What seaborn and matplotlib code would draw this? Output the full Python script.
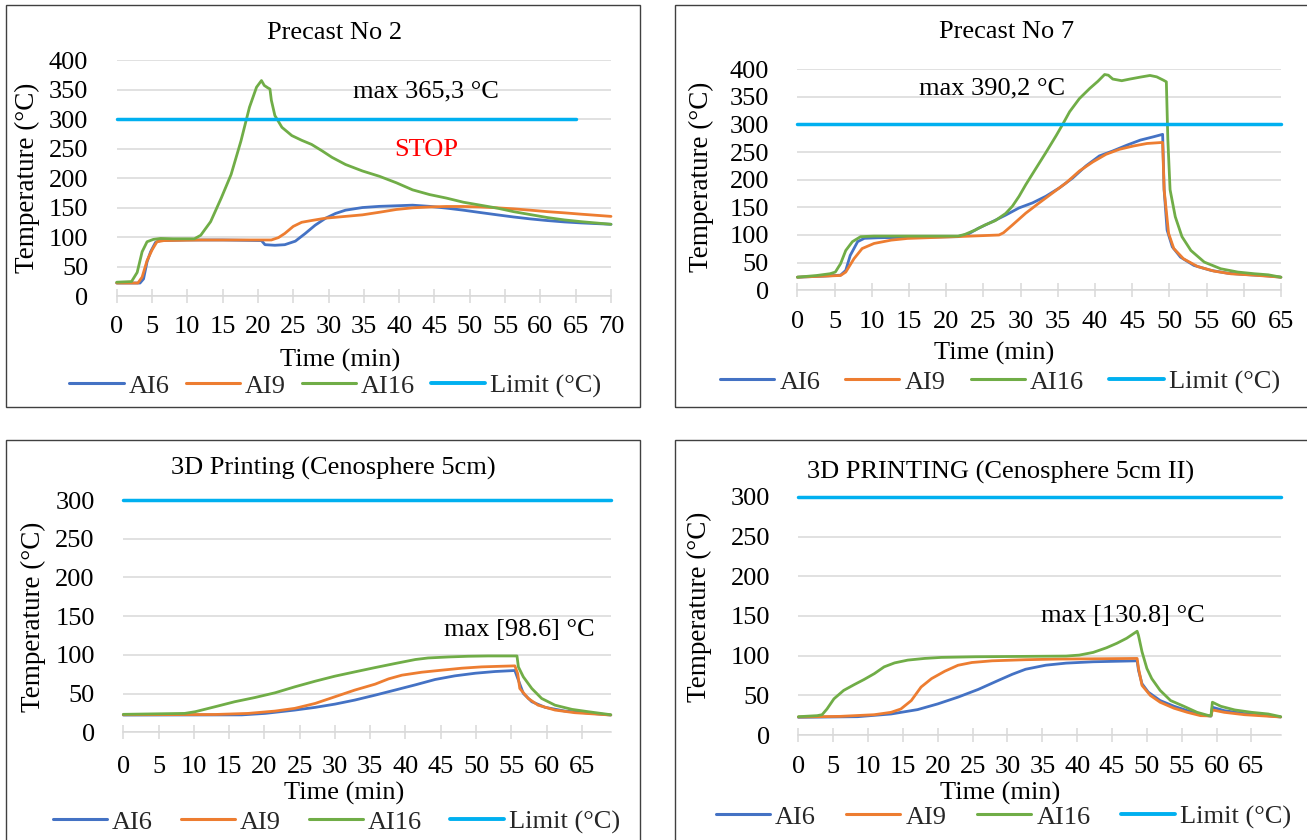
import matplotlib
matplotlib.use('Agg')
import matplotlib.pyplot as plt
import seaborn as sns
from matplotlib.patches import Rectangle
from matplotlib.lines import Line2D

# ---------------- data ----------------
series_names = ['AI6', 'AI9', 'AI16', 'Limit (°C)']
titles = ['Precast No 2', 'Precast No 7', '3D Printing (Cenosphere 5cm)', '3D PRINTING (Cenosphere 5cm II)']
x_label = 'Time (min)'
y_label = 'Temperature (°C)'

# Panel 1: Precast No 2
p1_ai6_t = [0, 3.3, 3.8, 4.3, 4.8, 5.5, 6.2, 10, 15, 20.5, 21, 22.4, 23.8, 25.3, 26.7, 28.1, 29.6, 31, 32.4, 34.8,
            37.2, 39.6, 41.9, 44.3, 46.7, 49.1, 51.5, 53.9, 56.2, 58.6, 61, 63.4, 65.8, 70]
p1_ai6_v = [22, 22, 29, 58, 75, 91, 94, 95, 95, 94, 87, 86, 87, 93, 106, 120, 132, 140, 145.5, 150,
            152, 153, 154, 152, 149, 145.5, 141.5, 137.6, 134, 130.7, 127.9, 125.6, 123.9, 121.6]
p1_ai9_t = [0, 3.0, 3.6, 4.3, 5.0, 5.7, 6.7, 12, 18, 21.9, 22.9, 23.8, 25, 26.2, 27.6, 29.6, 32.4, 34.8, 37.2, 39.6,
            41.9, 44.3, 46.7, 49.1, 51.5, 53.9, 56.2, 58.6, 61, 63.4, 65.8, 70]
p1_ai9_v = [22, 22, 32, 60, 78, 92, 94, 95, 95, 95, 99, 106, 118, 125, 128, 132, 135, 137.6, 142, 146.7,
            149.5, 151, 151.8, 151.8, 151, 149.5, 147.8, 145.5, 143, 141, 138.7, 135]
p1_ai16_t = [0, 2.1, 2.9, 3.6, 4.3, 5.2, 6.2, 8, 11, 11.9, 13.3, 14.8, 16.2, 17.6, 18.8, 19.8, 20.5, 20.9, 21.4, 21.7,
             21.9, 22.4, 23.4, 24.8, 26.2, 27.6, 29.1, 30.5, 32.4, 34.8, 37.2, 39.6, 41.9, 44.3, 46.7, 49.1, 51.5,
             53.9, 56.2, 58.6, 61, 63.4, 65.8, 70]
p1_ai16_v = [23.4, 24.5, 40, 75, 92, 96, 97.6, 97, 97, 103, 126, 166, 206, 263, 320, 354, 365.3, 357, 353, 351,
             332, 306, 286, 272, 264, 257, 246, 235, 223, 212, 203, 192, 180, 172, 166, 159, 154,
             149, 143, 138, 133, 129, 126, 121.6]
p1_limit_t = [0, 65]
p1_limit_v = [300, 300]

# Panel 2: Precast No 7
p2_ai6_t = [0, 3.5, 5.8, 6.5, 7.1, 8.1, 9.0, 10.8, 15, 21.6, 23, 24.3, 26.2, 28, 29.8, 31.6, 33.4, 35.2, 37, 38.8,
            40.6, 42.4, 44.3, 46.1, 47.9, 49.1, 49.3, 49.7, 50.4, 51.5, 53.3, 55.6, 57.8, 60.1, 63.3, 65]
p2_ai6_v = [23.7, 25.6, 27.4, 36, 63, 88, 94, 95, 96, 97, 102, 112, 124, 136, 149, 158, 170, 185, 203, 225,
            243, 252, 262.5, 271.6, 277.7, 282, 182, 109, 78.6, 60, 45, 36, 31, 28.6, 26, 23.7]
p2_ai9_t = [0, 5.8, 6.5, 7.6, 8.7, 10.3, 12.6, 14.8, 19.4, 27.1, 27.7, 28.9, 30.7, 32.5, 34.3, 36.1, 37.9, 39.7,
            41.5, 43.3, 45.2, 47, 49.1, 49.3, 49.9, 50.6, 51.9, 53.8, 56, 58.3, 61.4, 65]
p2_ai9_v = [23.7, 26.8, 33, 57, 75.5, 84.7, 90.7, 93.8, 96, 100, 104, 118, 139.5, 158, 176, 194, 215.6, 232,
            246, 255, 261, 265.5, 267.4, 182, 103, 75.5, 57, 43, 34.7, 29.8, 27.4, 23.7]
p2_ai16_t = [0, 2.6, 4.4, 5.1, 5.8, 6.5, 7.4, 8.5, 10.3, 21.6, 22.5, 23.9, 25.2, 26.6, 28, 28.9, 29.8, 30.7, 32,
             33.4, 34.8, 35.7, 36.6, 37.9, 39.3, 40.4, 41.3, 41.8, 42.4, 43.6, 44.7, 46.1, 47.4, 48.3, 49.2, 49.6,
             49.8, 50.1, 50.8, 51.7, 52.9, 54.7, 56.9, 59.2, 61.4, 63.3, 65]
p2_ai16_v = [23.7, 26.8, 30, 33, 48, 72, 88, 97, 98, 98, 101, 109, 118, 126, 139, 152, 170, 191, 219,
             249, 280, 301, 323, 346.5, 365, 378, 390.2, 389, 382, 379, 382, 385.5, 388.5, 386, 380, 377,
             273, 182, 133, 97, 72, 51, 39, 33, 30, 28, 23.7]
p2_limit_t = [0, 65]
p2_limit_v = [300, 300]

# Panel 3: 3D Printing (Cenosphere 5cm)
p3_ai6_t = [0, 16.8, 20.1, 24.3, 27.2, 30, 32.8, 35.7, 38.5, 41.4, 44.2, 47, 49.9, 52.7, 55.5, 56.0, 56.7, 57.9,
            59.8, 62.6, 65.9, 69.1]
p3_ai6_v = [22.3, 22.5, 24.4, 28.7, 32.2, 36.4, 41.6, 48, 54.5, 61.3, 68.2, 72.9, 76.3, 78.5, 79.8, 67.3, 50.2,
            39.5, 32.2, 27.4, 24.9, 22.3]
p3_ai9_t = [0, 13, 17.7, 21.5, 24.3, 27.2, 30, 32.8, 35.7, 37.6, 39.5, 42.3, 45.1, 48, 50.8, 53.6, 55.5, 55.9,
            56.2, 57.4, 58.8, 61.2, 64, 69.1]
p3_ai9_v = [22.7, 23, 24.4, 27.4, 30.9, 37.3, 45.9, 54.5, 62.2, 69, 73.8, 77.6, 80.2, 82.8, 84.5, 85.3, 85.8,
            75.9, 56.6, 43.7, 35, 28.7, 25.3, 22.3]
p3_ai16_t = [0, 8.7, 10.2, 13, 15.8, 18.7, 21.5, 24.3, 27.2, 30, 32.8, 35.7, 38.5, 41.4, 43.2, 46.1, 48.9, 51.7,
             55.8, 56.0, 56.7, 57.9, 59.3, 61.2, 63.6, 65.9, 69.1]
p3_ai16_v = [23.2, 24.4, 26.6, 33, 39.5, 45, 51, 58.7, 66, 72.5, 78, 83.6, 88.8, 94, 96, 97.3, 98.2, 98.6,
             98.6, 84.5, 71.6, 56.6, 43.7, 35, 29.6, 26.6, 22.7]
p3_limit_t = [0, 69.1]
p3_limit_v = [300, 300]

# Panel 4: 3D PRINTING (Cenosphere 5cm II)
p4_ai6_t = [0, 8.5, 13.3, 17.1, 20, 22.9, 25.8, 28.7, 30.7, 32.6, 35.5, 38.4, 42.3, 48.6, 48.8, 49.3, 50.2, 51.9,
            53.9, 55.8, 57.7, 59.2, 59.4, 61.1, 64, 66.4, 69.2]
p4_ai6_v = [22.5, 23.3, 26.7, 32.2, 39.4, 47.9, 57.6, 69, 76.7, 83, 88.1, 90.7, 92.4, 93.6, 81.5, 64.8, 54.2,
            43.6, 36.4, 30.9, 25.8, 24, 35.2, 30.9, 27.1, 25.4, 22.9]
p4_ai9_t = [0, 6, 10.9, 13.3, 14.7, 16.2, 17.6, 19.1, 21, 22.9, 24.9, 27.8, 32.6, 37.4, 48.6, 48.8, 49.3, 50.5,
            51.9, 53.9, 55.8, 57.7, 59.2, 59.4, 61.1, 64, 69.2]
p4_ai9_v = [22.9, 23.7, 25.8, 28.8, 33, 43.6, 60.6, 71.2, 80.5, 88, 91.5, 93.6, 95, 95.8, 96.6, 84, 62.7, 50,
            41.5, 33.9, 28.8, 24.6, 24.2, 31.8, 28.8, 25.8, 22.9]
p4_ai16_t = [0, 2.7, 3.4, 4.1, 5.1, 6.5, 8, 9.4, 10.9, 12.3, 13.8, 15.7, 18.1, 20.5, 25.4, 32.6, 38.4, 40.3, 42.3,
             44.2, 45.7, 47.1, 48.6, 48.8, 49.3, 50, 50.7, 51.9, 53.4, 55.3, 57.2, 58.9, 59.2, 59.4, 60.6, 62.6,
             65, 67.4, 69.2]
p4_ai16_v = [23.3, 24.6, 25.8, 33, 45.8, 56.4, 63.6, 70, 77.5, 86, 91, 94.5, 96.6, 97.9, 98.7, 99.2, 99.6, 100.8,
             104.2, 110, 115.7, 122, 130.8, 125.4, 105, 84, 71.2, 56.4, 43.6, 36.4, 28.8, 24.6, 24.6, 41.5, 36.4,
             31.8, 28.8, 26.7, 23.3]
p4_limit_t = [0, 69.2]
p4_limit_v = [300, 300]

x_ticks_70 = [0, 5, 10, 15, 20, 25, 30, 35, 40, 45, 50, 55, 60, 65, 70]
x_ticks_65 = [0, 5, 10, 15, 20, 25, 30, 35, 40, 45, 50, 55, 60, 65]
y_ticks_400 = [0, 50, 100, 150, 200, 250, 300, 350, 400]
y_ticks_300 = [0, 50, 100, 150, 200, 250, 300]

annotations = [
    [('max 365,3 °C', 43.8, 346, 'black'), ('STOP', 43.9, 248, '#FF0000')],
    [('max 390,2 °C', 26.2, 365, 'black')],
    [('max [98.6] °C', 56.2, 132.5, 'black')],
    [('max [130.8] °C', 46.5, 149.6, 'black')],
]

# ---------------- style ----------------
sns.set_theme(style='white')
plt.rcParams['font.family'] = ['Liberation Serif', 'DejaVu Serif']
FS = 19
colors = ['#4472C4', '#ED7D31', '#70AD47', '#00B0F0']
GRID = '#D9D9D9'

W, H = 1307, 840
fig = plt.figure(figsize=(W / 100, H / 100), dpi=100)
fig.patch.set_facecolor('white')


def fx(px):
    return px / W


def fy(py):
    return 1 - py / H


# layout (pixels): axes box, x-limits, title, labels, legend, frame
panels = [
    dict(box=(116.7, 60.1, 611.0, 296.0), xmax=70, ymax=400, xt=x_ticks_70, yt=y_ticks_400,
         title=(335, 33), xl=(340, 360), yl=(27, 178), leg=(335.5, 386), frame=(6, 5, 640, 407), xpad=29,
         colsp=0.6,
         data=[(p1_ai6_t, p1_ai6_v), (p1_ai9_t, p1_ai9_v), (p1_ai16_t, p1_ai16_v), (p1_limit_t, p1_limit_v)]),
    dict(box=(797.4, 69.1, 1280.9, 290.3), xmax=65, ymax=400, xt=x_ticks_65, yt=y_ticks_400,
         title=(1007, 32), xl=(994, 353), yl=(701.5, 177), leg=(1000, 382), frame=(675, 5, 1312, 407), xpad=30,
         colsp=0.95,
         data=[(p2_ai6_t, p2_ai6_v), (p2_ai9_t, p2_ai9_v), (p2_ai16_t, p2_ai16_v), (p2_limit_t, p2_limit_v)]),
    dict(box=(123.3, 500.0, 610.8, 732.3), xmax=69.1, ymax=300, xt=x_ticks_65, yt=y_ticks_300,
         title=(333, 468), xl=(344, 793), yl=(33, 617), leg=(336.5, 822), frame=(6, 440, 640, 850), xpad=33,
         colsp=1.05,
         data=[(p3_ai6_t, p3_ai6_v), (p3_ai9_t, p3_ai9_v), (p3_ai16_t, p3_ai16_v), (p3_limit_t, p3_limit_v)]),
    dict(box=(798.4, 496.8, 1280.7, 735.2), xmax=69.2, ymax=300, xt=x_ticks_65, yt=y_ticks_300,
         title=(1001, 472), xl=(1000, 793), yl=(699, 607), leg=(1003.5, 817), frame=(675, 440, 1312, 850), xpad=30,
         colsp=1.15,
         data=[(p4_ai6_t, p4_ai6_v), (p4_ai9_t, p4_ai9_v), (p4_ai16_t, p4_ai16_v), (p4_limit_t, p4_limit_v)]),
]

for i, p in enumerate(panels):
    l, t, r, b = p['box']
    ax = fig.add_axes([fx(l), fy(b), (r - l) / W, (b - t) / H])
    ax.set_facecolor('none')
    for j, (tt, vv) in enumerate(p['data']):
        lw = 2.5 if j == 3 else 2.0
        sns.lineplot(x=tt, y=vv, ax=ax, color=colors[j], lw=lw, estimator=None, legend=False, zorder=3 + (j == 3))
        ax.lines[-1].set_clip_on(False)
    ax.set_xlim(0, p['xmax'])
    ax.set_ylim(0, p['ymax'])
    ax.set_xticks(p['xt'])
    ax.set_xticklabels([str(v) for v in p['xt']])
    ax.set_yticks(p['yt'])
    ax.set_yticklabels([str(v) for v in p['yt']])
    ax.grid(axis='y', color=GRID, lw=1.1, zorder=0)
    ax.grid(axis='x', visible=False)
    ax.set_axisbelow(True)
    for s in ['top', 'right', 'left']:
        ax.spines[s].set_visible(False)
    ax.spines['bottom'].set_color(GRID)
    ax.spines['bottom'].set_linewidth(1.1)
    # x ticks: crossing tick marks
    tick_len_px = 14
    pad_px = p['xpad'] - 8.9 - tick_len_px / 2
    ax.tick_params(axis='x', direction='inout', length=tick_len_px * 0.72, width=1.1, color=GRID,
                   labelsize=FS, pad=pad_px * 0.72, labelcolor='black', bottom=True)
    ax.tick_params(axis='y', length=0, labelsize=FS, pad=20.5, labelcolor='black', left=True)

    ax.set_xlabel(x_label, fontsize=FS, color='black')
    ax.xaxis.label.set_va('center')
    ax.xaxis.set_label_coords(fx(p['xl'][0]), fy(p['xl'][1]), transform=fig.transFigure)
    ax.set_ylabel(y_label, fontsize=FS + 0.5, color='black')
    ax.yaxis.label.set_va('center')
    ax.yaxis.set_label_coords(fx(p['yl'][0]), fy(p['yl'][1]), transform=fig.transFigure)

    tx, ty = p['title']
    ax.set_title(titles[i], fontsize=FS, color='black', x=(tx - l) / (r - l), y=(b - ty) / (b - t),
                 va='center', pad=0)

    for (txt, xx, yy, c) in annotations[i]:
        ax.text(xx, yy, txt, fontsize=FS, color=c, ha='center', va='center', zorder=6)

    handles = [Line2D([], [], color=colors[j], lw=(2.8 if j == 3 else 2.2)) for j in range(4)]
    ax.legend(handles, series_names, loc='center', bbox_to_anchor=(fx(p['leg'][0]), fy(p['leg'][1])),
              bbox_transform=fig.transFigure, ncol=4, frameon=False, fontsize=FS, handlelength=2.05,
              handletextpad=0.2, columnspacing=p['colsp'], borderpad=0, borderaxespad=0)

    x0, y0, x1, y1 = p['frame']
    fig.add_artist(Rectangle((fx(x0), fy(y1)), (x1 - x0) / W, (y1 - y0) / H, transform=fig.transFigure,
                             fill=False, ec='#404040', lw=1.0, zorder=10))

fig.savefig('out.png', dpi=100, facecolor='white')
